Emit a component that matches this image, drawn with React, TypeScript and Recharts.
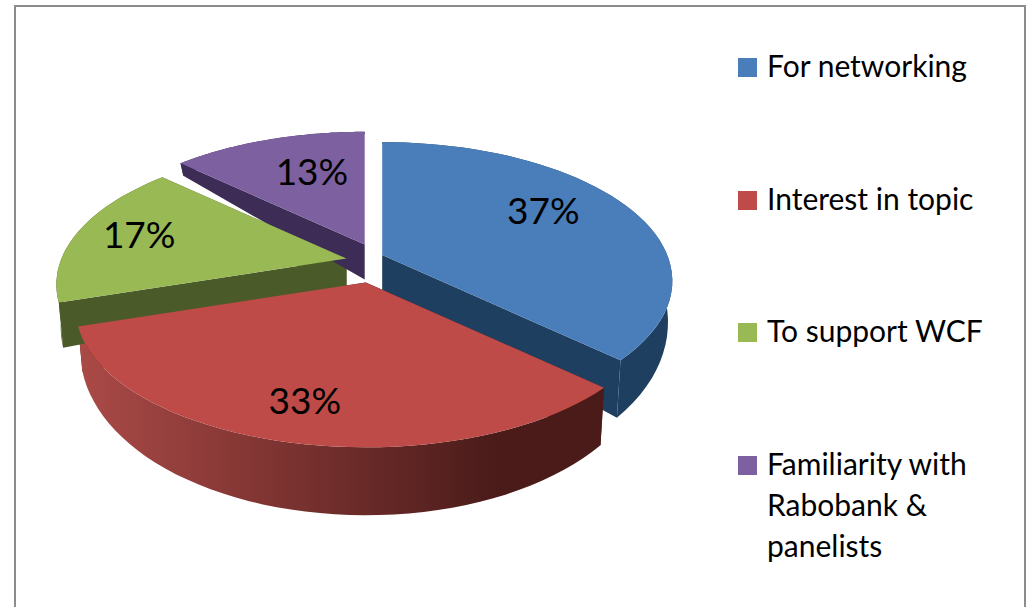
import React from 'react';
import { PieChart, Pie, Legend } from 'recharts';

const categories = ['For networking', 'Interest in topic', 'To support WCF', 'Familiarity with Rabobank & panelists'];
const shares = [37, 33, 17, 13];

const TOP_COLORS = ['#4a7ebb', '#be4b48', '#98b954', '#7d60a0'];
const WALL_LEFT = ['#1f3f60', '#ab4a47', '#4a5a28', '#3d2c55'];
const WALL_RIGHT = ['#1f3f60', '#4a1b19', '#4a5a28', '#3d2c55'];
// percent labels sit a little off the slice's radial line in the original
const LABEL_NUDGE = [[-13, -10], [-11, 12], [-18, -5], [18, 3]];

const pieData = categories.map((name, i) => ({ name, value: shares[i] }));

const FONT = 'Lato, sans-serif';
const CX = 366;
const CY = 263;
const RADIUS = 285;

// fake 3d: tilt + perspective for the flat angles recharts hands us
const TILT = 134 / 285;
const PERSPECTIVE = 0.187;
const EXPLODE_X = 21;
const EXPLODE_Y = 20;
const DEPTH = 35;

const rad = (deg: number) => (deg * Math.PI) / 180;

function project(clock: number, r: number) {
  const cos = Math.cos(rad(clock));
  const sin = Math.sin(rad(clock));
  const f = r / RADIUS;
  const w = 1 / (1 + PERSPECTIVE * cos * f);
  return { x: r * sin * w, y: -r * TILT * cos * w };
}

function apexOf(cx: number, cy: number, clockMid: number) {
  const s = Math.sin(rad(clockMid));
  return {
    x: cx + EXPLODE_X * s * s * s,
    y: cy - EXPLODE_Y * Math.cos(rad(clockMid)),
  };
}

function point(cx: number, cy: number, clockMid: number, clock: number, r: number, lowered: boolean) {
  const apex = apexOf(cx, cy, clockMid);
  const p = project(clock, r);
  if (!lowered) return { x: apex.x + p.x, y: apex.y + p.y };
  const depth = DEPTH * (1 - 0.94 * Math.cos(rad(clock)) * (r / RADIUS));
  return { x: apex.x + p.x * 0.985, y: apex.y + p.y + depth };
}

const toPath = (pts: { x: number; y: number }[]) =>
  pts.map((p, i) => `${i ? 'L' : 'M'}${p.x.toFixed(1)},${p.y.toFixed(1)}`).join(' ') + ' Z';

function arcSteps(from: number, to: number) {
  const out: number[] = [];
  const n = 48;
  for (let i = 0; i <= n; i++) out.push(from + ((to - from) * i) / n);
  return out;
}

function WallShape(props: any) {
  const { cx, cy, outerRadius, startAngle, endAngle, index } = props;
  const from = 90 - startAngle;
  const to = 90 - endAngle;
  const mid = (from + to) / 2;
  const steps = arcSteps(from, to);
  const outer = [
    ...steps.map((a) => point(cx, cy, mid, a, outerRadius, false)),
    ...steps.slice().reverse().map((a) => point(cx, cy, mid, a, outerRadius, true)),
  ];
  const edge = (a: number) => [
    point(cx, cy, mid, a, 0, false),
    point(cx, cy, mid, a, outerRadius, false),
    point(cx, cy, mid, a, outerRadius, true),
    point(cx, cy, mid, a, 0, true),
  ];
  const id = `wall-${index}`;
  return (
    <g>
      <defs>
        <linearGradient id={id} x1="0" y1="0" x2="1" y2="0">
          <stop offset="0%" stopColor={WALL_LEFT[index]} />
          <stop offset="80%" stopColor={WALL_RIGHT[index]} />
        </linearGradient>
      </defs>
      <path d={toPath(edge(from))} fill={WALL_RIGHT[index]} />
      <path d={toPath(edge(to))} fill={WALL_RIGHT[index]} />
      <path d={toPath(outer)} fill={`url(#${id})`} />
    </g>
  );
}

function TopShape(props: any) {
  const { cx, cy, outerRadius, startAngle, endAngle, index } = props;
  const from = 90 - startAngle;
  const to = 90 - endAngle;
  const mid = (from + to) / 2;
  const pts = [
    point(cx, cy, mid, from, 0, false),
    ...arcSteps(from, to).map((a) => point(cx, cy, mid, a, outerRadius, false)),
  ];
  return <path d={toPath(pts)} fill={TOP_COLORS[index]} />;
}

function renderShare(props: any) {
  const { midAngle, value, index } = props;
  const clock = 90 - midAngle;
  const p = point(CX, CY, clock, clock, RADIUS * 0.7, false);
  return (
    <text
      x={p.x + LABEL_NUDGE[index][0]}
      y={p.y + LABEL_NUDGE[index][1]}
      textAnchor="middle"
      dominantBaseline="central"
      fontFamily={FONT}
      fontSize={37}
      fill="#000"
    >
      {`${value}%`}
    </text>
  );
}

function renderLegend() {
  return (
    <div style={{ position: 'relative', width: 270, height: 520, fontFamily: FONT, fontSize: 30, lineHeight: '41px', color: '#000' }}>
      {categories.map((name, i) => (
        <div key={name} style={{ position: 'absolute', top: i * 132.5, left: 0, width: 240 }}>
          <span style={{ position: 'absolute', left: 0, top: 12, width: 19, height: 19, background: TOP_COLORS[i] }} />
          <div style={{ marginLeft: 29, marginTop: -1, width: 225 }}>{name}</div>
        </div>
      ))}
    </div>
  );
}

export default function App() {
  return (
    <div style={{ position: 'absolute', left: 0, top: 0, width: 1029, height: 607, overflow: 'hidden', background: '#fff' }}>
      <div style={{ position: 'absolute', left: 14, top: 5, width: 1008, height: 700, border: '2px solid #8c8c8c' }} />
      <PieChart width={1029} height={607} margin={{ top: 0, right: 0, bottom: 0, left: 0 }} style={{ position: 'absolute', left: 0, top: 0 }}>
        <Pie
          data={pieData}
          dataKey="value"
          cx={CX}
          cy={CY}
          outerRadius={RADIUS}
          startAngle={90}
          endAngle={-270}
          stroke="none"
          legendType="none"
          shape={WallShape}
          isAnimationActive={false}
        />
        <Pie
          data={pieData}
          dataKey="value"
          cx={CX}
          cy={CY}
          outerRadius={RADIUS}
          startAngle={90}
          endAngle={-270}
          stroke="none"
          shape={TopShape}
          label={renderShare}
          labelLine={false}
          isAnimationActive={false}
        />
        <Legend content={renderLegend} wrapperStyle={{ position: 'absolute', left: 738, top: 46, width: 270, bottom: 'auto', right: 'auto' }} />
      </PieChart>
    </div>
  );
}
